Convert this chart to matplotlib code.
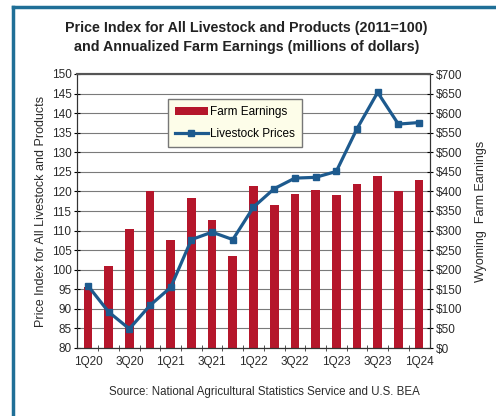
import matplotlib.pyplot as plt
from matplotlib.lines import Line2D

quarters = ['1Q20', '2Q20', '3Q20', '4Q20', '1Q21', '2Q21', '3Q21', '4Q21', '1Q22',
            '2Q22', '3Q22', '4Q22', '1Q23', '2Q23', '3Q23', '4Q23', '1Q24']
# annualized farm earnings, millions of dollars (right axis)
farm_earnings = [155, 210, 303, 400, 277, 382, 328, 235, 415,
                 365, 393, 403, 391, 418, 440, 401, 428]
# livestock price index, 2011=100 (left axis)
livestock_prices = [95.9, 89.2, 84.9, 90.9, 95.5, 107.7, 109.6, 107.7, 116.0,
                    120.7, 123.4, 123.6, 125.1, 136.0, 145.3, 137.2, 137.6]

plt.rcParams['font.family'] = ['Liberation Sans', 'DejaVu Sans']
txt = '#2a2a2a'

fig = plt.figure(figsize=(4.96, 4.16), dpi=100)
fig.patch.set_facecolor('white')

# blue frame around the figure (left and top visible)
frame_color = '#1f6f97'
fig.add_artist(Line2D([13 / 496, 13 / 496], [0, 1 - 7 / 416], transform=fig.transFigure,
                      color=frame_color, lw=2.5))
fig.add_artist(Line2D([13 / 496, 1], [1 - 7 / 416, 1 - 7 / 416], transform=fig.transFigure,
                      color=frame_color, lw=2.5))

ax = fig.add_axes([77 / 496, 1 - 348 / 416, 353 / 496, 274 / 416])
ax2 = ax.twinx()
# line axis on top, bar axis (with background and grid) below
ax.set_zorder(ax2.get_zorder() + 1)
ax.patch.set_visible(False)
ax2.set_facecolor('#fdfde9')

x = list(range(len(quarters)))
bars = ax2.bar(x, farm_earnings, width=0.42, color='#b5162b', zorder=2)
ax2.set_ylim(0, 700)
ax2.set_yticks(range(0, 701, 50))
ax2.set_yticklabels([f'${v}' for v in range(0, 701, 50)])
ax2.grid(axis='y', color='#7a7a7a', lw=0.8)
ax2.set_axisbelow(True)

ax.set_ylim(80, 150)
ax.set_yticks(range(80, 151, 5))
line, = ax.plot(x, livestock_prices, color='#1d5a8e', lw=2.3, marker='s', ms=5, zorder=3)

ax.set_xlim(-0.53, len(quarters) - 0.47)
ax.set_xticks(x[::2])
ax.set_xticklabels(quarters[::2])
ax.set_xticks([i + 0.5 for i in x[:-1]], minor=True)
ax.tick_params(axis='x', which='major', length=0, pad=6, labelsize=8.5, labelcolor=txt)
ax.tick_params(axis='x', which='minor', length=4, direction='inout', color='#333333')
ax.tick_params(axis='y', length=4, direction='inout', labelsize=8.5, labelcolor=txt, pad=2)
ax2.tick_params(axis='y', length=4, direction='inout', labelsize=8.5, labelcolor=txt, pad=2)

for a in (ax, ax2):
    a.spines['top'].set_color('#555555')
    a.spines['top'].set_linewidth(1.5)
    for side in ('left', 'right', 'bottom'):
        a.spines[side].set_color('#333333')

ax.set_ylabel('Price Index for All Livestock and Products', fontsize=9, color=txt, labelpad=3)
ax2.set_ylabel('Wyoming  Farm Earnings', fontsize=9, color=txt, labelpad=9)

leg = ax.legend([bars, line], ['Farm Earnings', 'Livestock Prices'], loc='upper left',
                bbox_to_anchor=(0.24, 0.93), fontsize=8.5, frameon=True, fancybox=False,
                handlelength=2.8, handletextpad=0.2, borderpad=0.6, labelspacing=0.85)
leg.get_frame().set_facecolor('#fdfde9')
leg.get_frame().set_edgecolor('#777777')
leg.get_frame().set_alpha(1)

fig.text(0.497, 1 - 28 / 416, 'Price Index for All Livestock and Products (2011=100)',
         ha='center', va='center', fontsize=10.3, fontweight='bold', color='#222222')
fig.text(0.497, 1 - 47 / 416, 'and Annualized Farm Earnings (millions of dollars)',
         ha='center', va='center', fontsize=10.3, fontweight='bold', color='#222222')
fig.text(264 / 496, 1 - 392 / 416, 'Source: National Agricultural Statistics Service and U.S. BEA',
         ha='center', va='center', fontsize=8.3, color=txt)

fig.savefig('out.png', dpi=100)
